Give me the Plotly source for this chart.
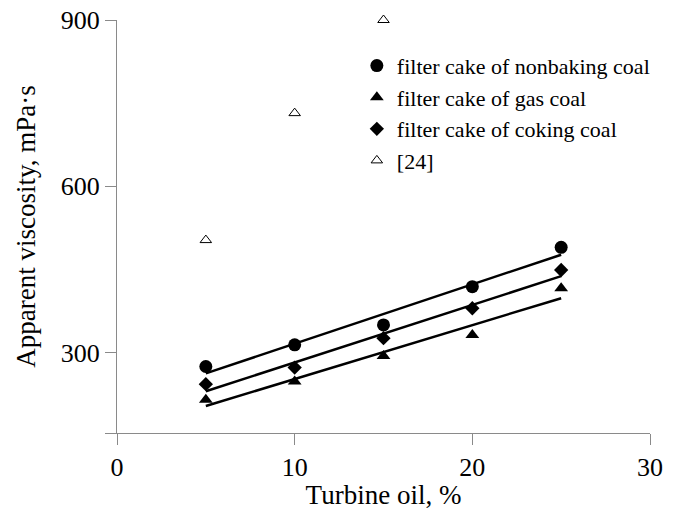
import numpy as np
import plotly.graph_objects as go

turbine_oil = [5, 10, 15, 20, 25]
nonbaking = [275, 314, 350, 419, 490]
gas_coal = [215, 248, 294, 332, 416]
coking = [243, 273, 326, 380, 449]
ref_x = [5, 10, 15]
ref_y = [503, 732, 900]

y_ticks = [155, 300, 600, 900]
y_tick_text = ["", "300", "600", "900"]
x_ticks = [0, 10, 20, 30]

FONT = "Liberation Serif, Times New Roman, serif"
fig = go.Figure()

series = [
    ("filter cake of nonbaking coal", nonbaking, "circle", 13),
    ("filter cake of gas coal", gas_coal, "triangle-up", 12),
    ("filter cake of coking coal", coking, "diamond", 11),
]
x_arr = np.array(turbine_oil, dtype=float)
for name, ys, sym, sz in series:
    k, b = np.polyfit(x_arr, np.array(ys, dtype=float), 1)
    fx = [x_arr.min(), x_arr.max()]
    fig.add_trace(go.Scatter(x=fx, y=[k * v + b for v in fx], mode="lines",
                             line=dict(color="black", width=2.5),
                             showlegend=False, hoverinfo="skip"))
for name, ys, sym, sz in series:
    fig.add_trace(go.Scatter(x=turbine_oil, y=ys, mode="markers", name=name,
                             marker=dict(symbol=sym, size=sz, color="black")))
fig.add_trace(go.Scatter(x=ref_x, y=ref_y, mode="markers", name="[24]",
                         cliponaxis=False,
                         marker=dict(symbol="triangle-up-open", size=10,
                                     color="black", line=dict(width=1))))

axis_common = dict(showline=True, linecolor="#8a8a8a", linewidth=1,
                   ticks="outside", ticklen=11, tickcolor="#8a8a8a",
                   showgrid=False, zeroline=False, automargin=False,
                   tickfont=dict(family=FONT, size=26, color="black"))
fig.update_xaxes(range=[0, 30], tickvals=x_ticks,
                 title=dict(text="Turbine oil, %", font=dict(family=FONT, size=27, color="black"), standoff=2),
                 **axis_common)
fig.update_yaxes(range=[155, 900], tickvals=y_ticks, ticktext=y_tick_text,
                 title=dict(text="Apparent viscosity, mPa·s", font=dict(family=FONT, size=27, color="black"), standoff=17),
                 **axis_common)

fig.update_layout(
    width=673, height=510,
    margin=dict(l=117, r=23, t=20, b=77),
    plot_bgcolor="white", paper_bgcolor="white",
    legend=dict(x=0.45, y=0.94, xanchor="left", yanchor="top",
                font=dict(family=FONT, size=22, color="black"),
                bgcolor="rgba(0,0,0,0)", tracegroupgap=0),
)
fig.write_html("out.html", config={"displayModeBar": False},
               post_script="document.body.style.margin='0';")
